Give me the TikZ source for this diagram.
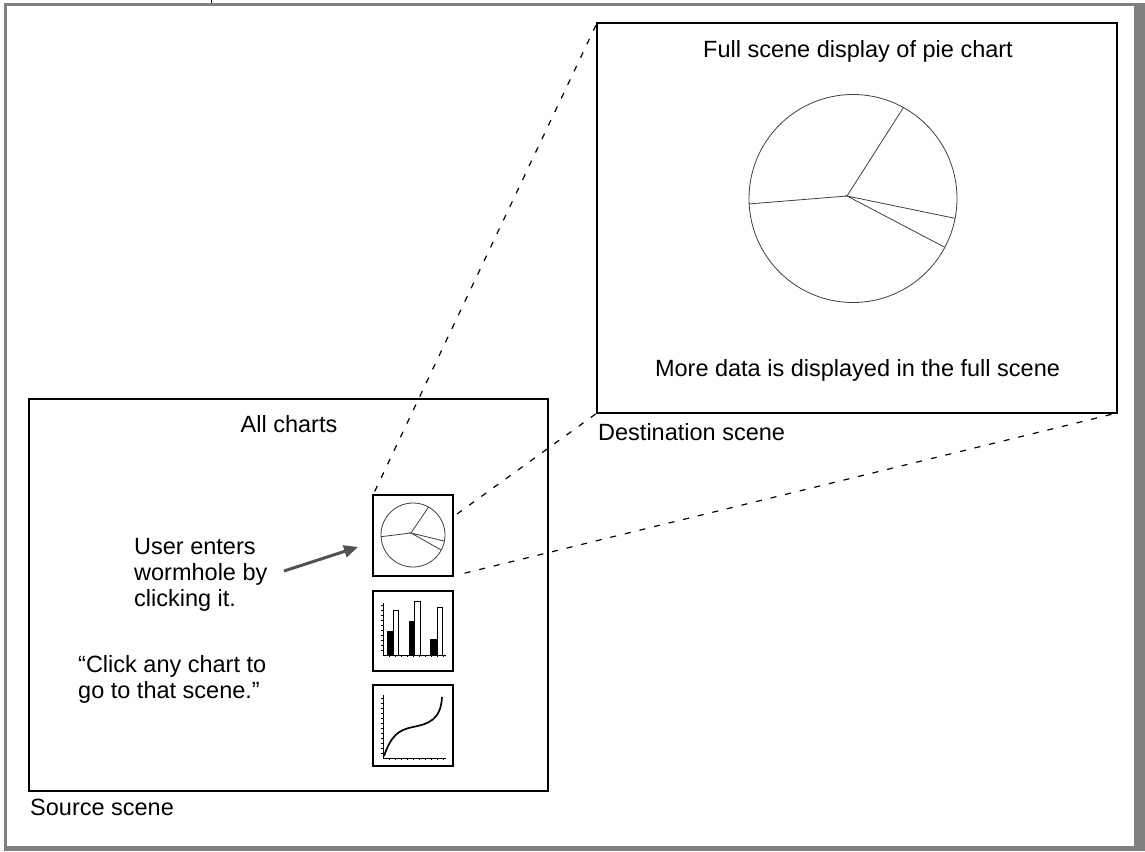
\documentclass[tikz,border=0pt]{standalone}
\usepackage{fontspec}
\setmainfont{Liberation Sans}
\usetikzlibrary{arrows.meta}
\begin{document}
\begin{tikzpicture}[x=1pt,y=-1pt,
  lbl/.style={font=\fontsize{23.5}{26}\selectfont, inner sep=0, anchor=base},
  lblw/.style={lbl, anchor=base west},
  scenebox/.style={draw, line width=2pt, rectangle, inner sep=0, outer sep=0},
  thumb/.style={draw, line width=1.2pt, rectangle, inner sep=0, outer sep=0, minimum width=80pt, minimum height=80pt},
  pie/.style={draw=black!75, line width=0.8pt, circle, inner sep=0, outer sep=0},
  spoke/.style={draw=black!75, line width=0.8pt},
  proj/.style={draw, line width=1.2pt, dash pattern=on 6pt off 9pt},
  pointer/.style={draw=black!68, line width=3pt, -{Triangle[length=14pt,width=12pt,fill=black!68]}},
  axis/.style={line width=0.9pt},
  tick/.style={line width=0.6pt},
]
\useasboundingbox (0,0) rectangle (1145,851);
% outer frame
\fill[black!50] (4,3) rectangle (1145,851);
\fill[white] (7,6) rectangle (1134,846);
\draw[line width=1pt] (211,0) -- (211,3);

% destination scene
\node[scenebox, minimum width=520pt, minimum height=390pt] (dest) at (857,218) {};
\node[lbl] (desttitle) at (858,58) {Full scene display of pie chart};
\node[lbl] (destnote) at (857.5,376) {More data is displayed in the full scene};
\node[lblw] (destlabel) at (598,440) {Destination scene};

% big pie
\node[pie, minimum size=208pt] (bigpie) at (853,198.5) {};
\coordinate (bighub) at (847,196);
\draw[spoke] (bigpie.61.3) -- (bighub) -- (bigpie.183.6);
\draw[spoke] (bigpie.-11.3) -- (bighub) -- (bigpie.-28.3);

% source scene
\node[scenebox, minimum width=519pt, minimum height=392pt] (src) at (288.5,595) {};
\node[lbl] (srctitle) at (289,432) {All charts};
\node[lblw] (srclabel) at (30,815) {Source scene};
\node[lblw] (user1) at (134,554) {User enters};
\node[lblw] (user2) at (134,580) {wormhole by};
\node[lblw] (user3) at (134,606) {clicking it.};
\node[lblw] (click1) at (78,672) {\char"201C Click any chart to};
\node[lblw] (click2) at (78,698) {go to that scene.\char"201D};

% thumbnails
\node[thumb, minimum height=81pt] (tpie) at (413,535.5) {};
\node[thumb] (tbar) at (413,631) {};
\node[thumb, minimum height=81pt] (tcurve) at (413,725.5) {};

% small pie
\node[pie, minimum size=64pt] (smallpie) at (413,535) {};
\coordinate (smallhub) at (411,533);
\draw[spoke] (smallpie.61.3) -- (smallhub) -- (smallpie.183.6);
\draw[spoke] (smallpie.-11.3) -- (smallhub) -- (smallpie.-28.3);

% bar chart
\fill[black] (387,655) rectangle (393,631);
\fill[black] (409,655) rectangle (414,621);
\fill[black] (430,655) rectangle (437,639);
\draw[line width=0.9pt, fill=white] (393,655) rectangle (398,610);
\draw[line width=0.9pt, fill=white] (414,655) rectangle (420,601);
\draw[line width=0.9pt, fill=white] (437,655) rectangle (442,607);
\draw[axis] (383,603) -- (383,655) -- (446,655);
\foreach \t in {605,610,...,650} \draw[tick] (381,\t) -- (383,\t);
\foreach \t in {389,395,...,443} \draw[tick] (\t,655) -- (\t,657);

% curve chart
\draw[axis] (383,695) -- (383,758) -- (446,758);
\foreach \t in {698,703,...,753} \draw[tick] (381,\t) -- (383,\t);
\foreach \t in {389,395,...,443} \draw[tick] (\t,758) -- (\t,760);
\draw[line width=1.7pt] (384,756) .. controls (391,736) and (398,730) .. (413,727)
  .. controls (428,724) and (441,720) .. (442,697);

% pointer arrow
\coordinate (ptrstart) at (284,571);
\coordinate (ptrend) at (358,547);
\draw[pointer] (ptrstart) -- (ptrend);

% projection lines
\coordinate (p2start) at (457,514);
\draw[proj, shorten <=4pt] (tpie.north west) -- (dest.north west);
\draw[proj] (p2start) -- (dest.south west);
\draw[proj, shorten <=12pt] (tpie.south east) -- (dest.south east);
\end{tikzpicture}
\end{document}
